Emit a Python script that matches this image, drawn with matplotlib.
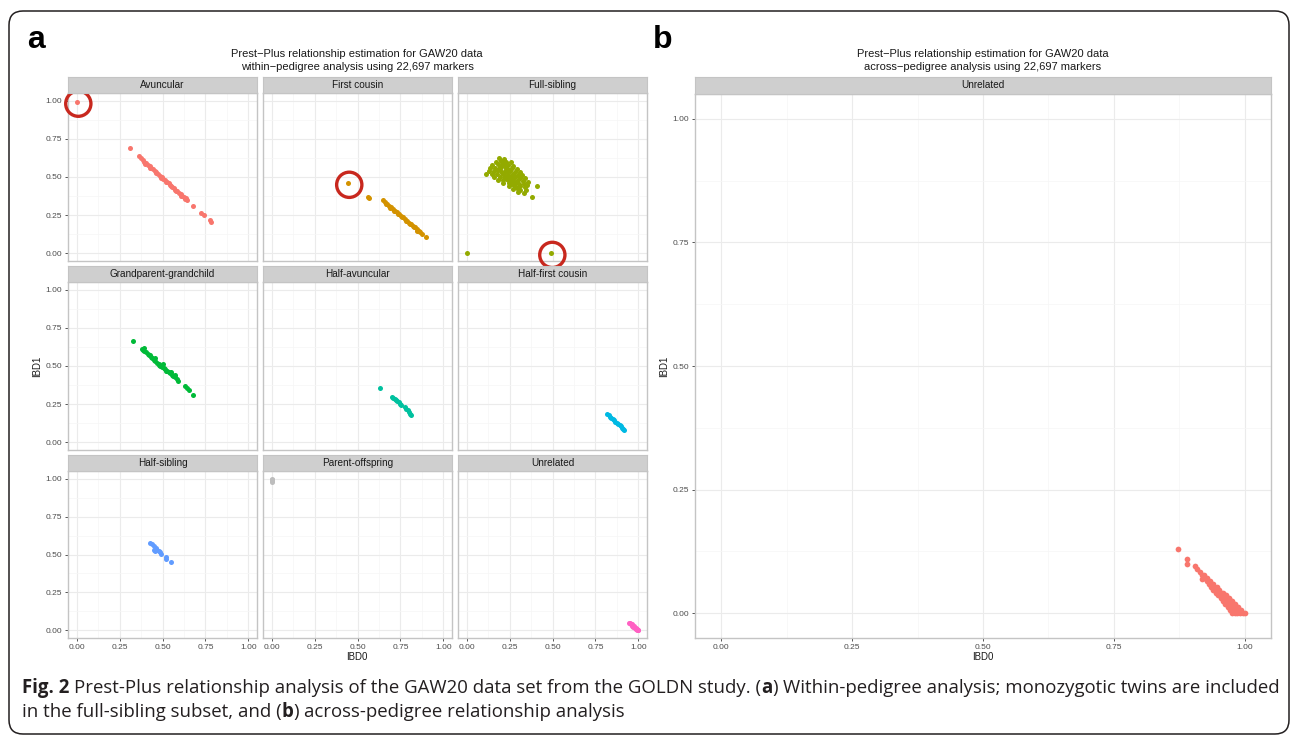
import matplotlib
matplotlib.use('Agg')
import matplotlib.pyplot as plt
from matplotlib.patches import FancyBboxPatch

W, H = 1296, 739

# within-pedigree facets
facets = ['Avuncular', 'First cousin', 'Full-sibling',
          'Grandparent-grandchild', 'Half-avuncular', 'Half-first cousin',
          'Half-sibling', 'Parent-offspring', 'Unrelated']
colors = ['#F8766D', '#D39200', '#93AA00', '#00BA38', '#00C19F',
          '#00B9E3', '#619CFF', '#BDBDBD', '#FF61C3']

avu_ibd0 = [0.000, 0.310, 0.365, 0.375, 0.385, 0.395, 0.405, 0.415, 0.425, 0.435,
            0.445, 0.455, 0.465, 0.475, 0.485, 0.495, 0.505, 0.515, 0.525, 0.535,
            0.545, 0.555, 0.565, 0.575, 0.585, 0.595, 0.605, 0.615, 0.625, 0.635,
            0.645, 0.680, 0.725, 0.740, 0.775, 0.785,
            0.400, 0.430, 0.460, 0.490, 0.520, 0.550, 0.580, 0.610, 0.630]
avu_ibd1 = [0.990, 0.690, 0.635, 0.622, 0.614, 0.601, 0.592, 0.580, 0.571, 0.559,
            0.551, 0.539, 0.530, 0.519, 0.508, 0.499, 0.488, 0.478, 0.468, 0.458,
            0.447, 0.437, 0.428, 0.416, 0.406, 0.397, 0.386, 0.376, 0.366, 0.360,
            0.350, 0.310, 0.265, 0.252, 0.218, 0.205,
            0.588, 0.558, 0.527, 0.496, 0.466, 0.438, 0.407, 0.374, 0.356]

fc_ibd0 = [0.442, 0.560, 0.567,
           0.650, 0.660, 0.672, 0.684, 0.695, 0.707, 0.718, 0.730, 0.741, 0.753,
           0.764, 0.776, 0.787, 0.799, 0.810, 0.822, 0.833, 0.845, 0.856, 0.866,
           0.874, 0.898,
           0.668, 0.690, 0.712, 0.735, 0.758, 0.780, 0.803, 0.826, 0.848]
fc_ibd1 = [0.459, 0.372, 0.360,
           0.347, 0.336, 0.326, 0.313, 0.302, 0.292, 0.280, 0.270, 0.258, 0.247,
           0.237, 0.224, 0.214, 0.202, 0.193, 0.180, 0.170, 0.158, 0.148, 0.138,
           0.130, 0.104,
           0.322, 0.300, 0.279, 0.256, 0.236, 0.214, 0.192, 0.170, 0.149]

fs_ibd0 = [0.190, 0.220, 0.205,
           0.170, 0.198, 0.232, 0.258, 0.214,
           0.148, 0.181, 0.212, 0.243, 0.272, 0.228, 0.196,
           0.138, 0.168, 0.203, 0.231, 0.262, 0.291, 0.247, 0.184,
           0.128, 0.158, 0.192, 0.221, 0.253, 0.282, 0.308, 0.236, 0.207,
           0.115, 0.149, 0.178, 0.213, 0.241, 0.270, 0.297, 0.322, 0.259, 0.226,
           0.162, 0.193, 0.224, 0.252, 0.283, 0.311, 0.338, 0.268, 0.237,
           0.183, 0.212, 0.243, 0.272, 0.301, 0.331, 0.356, 0.288, 0.258,
           0.214, 0.246, 0.277, 0.305, 0.333, 0.352, 0.262,
           0.248, 0.281, 0.312, 0.341, 0.411, 0.296,
           0.272, 0.309, 0.348,
           0.301, 0.332,
           0.378,
           0.000, 0.489]
fs_ibd1 = [0.622, 0.615, 0.604,
           0.600, 0.603, 0.598, 0.596, 0.588,
           0.581, 0.584, 0.578, 0.580, 0.574, 0.571, 0.566,
           0.562, 0.559, 0.563, 0.558, 0.556, 0.552, 0.549, 0.545,
           0.541, 0.538, 0.543, 0.537, 0.540, 0.535, 0.532, 0.530, 0.527,
           0.519, 0.521, 0.518, 0.522, 0.516, 0.520, 0.514, 0.512, 0.508, 0.506,
           0.501, 0.498, 0.502, 0.497, 0.499, 0.495, 0.493, 0.488, 0.486,
           0.481, 0.478, 0.482, 0.477, 0.479, 0.474, 0.470, 0.468, 0.466,
           0.461, 0.458, 0.460, 0.456, 0.454, 0.450, 0.452,
           0.441, 0.438, 0.442, 0.436, 0.440, 0.430,
           0.421, 0.418, 0.416,
           0.402, 0.398,
           0.372,
           0.000, 0.000]

gp_ibd0 = [0.331, 0.379, 0.386, 0.395, 0.405, 0.414, 0.422, 0.431, 0.440, 0.449,
           0.458, 0.468, 0.479, 0.488, 0.498, 0.507, 0.516, 0.526, 0.535, 0.545,
           0.555, 0.564, 0.574, 0.584, 0.593, 0.633, 0.645, 0.657, 0.676,
           0.392, 0.428, 0.455, 0.480, 0.500, 0.520, 0.550, 0.570]
gp_ibd1 = [0.664, 0.614, 0.607, 0.598, 0.590, 0.578, 0.571, 0.559, 0.553, 0.541,
           0.534, 0.522, 0.515, 0.503, 0.496, 0.484, 0.478, 0.470, 0.461, 0.452,
           0.443, 0.436, 0.428, 0.418, 0.402, 0.367, 0.358, 0.345, 0.310,
           0.615, 0.575, 0.550, 0.505, 0.510, 0.470, 0.460, 0.440]

ha_ibd0 = [0.633, 0.700, 0.708, 0.716, 0.724, 0.732, 0.740, 0.748, 0.756, 0.775,
           0.783, 0.792, 0.800, 0.808, 0.814]
ha_ibd1 = [0.356, 0.300, 0.292, 0.285, 0.278, 0.270, 0.262, 0.253, 0.246, 0.232,
           0.220, 0.210, 0.200, 0.188, 0.177]

hfc_ibd0 = [0.819, 0.826, 0.834, 0.842, 0.850, 0.858, 0.866, 0.874, 0.882, 0.890,
            0.898, 0.906, 0.913, 0.919]
hfc_ibd1 = [0.183, 0.176, 0.168, 0.160, 0.152, 0.144, 0.136, 0.128, 0.120, 0.112,
            0.104, 0.096, 0.088, 0.079]

hs_ibd0 = [0.426, 0.437, 0.448, 0.453, 0.465, 0.455, 0.470, 0.478, 0.488, 0.493,
           0.519, 0.523, 0.551]
hs_ibd1 = [0.575, 0.566, 0.556, 0.532, 0.540, 0.523, 0.530, 0.522, 0.514, 0.505,
           0.484, 0.473, 0.449]

po_ibd0 = [0.000, 0.000, 0.000, 0.000, 0.002, 0.004]
po_ibd1 = [1.000, 0.994, 0.988, 0.982, 0.976, 0.990]

un_ibd0 = [0.948, 0.952, 0.956, 0.960, 0.964, 0.968, 0.972, 0.976, 0.980, 0.984,
           0.988, 0.992, 0.995, 0.998, 0.955, 0.963, 0.971, 0.979, 0.987, 0.994]
un_ibd1 = [0.052, 0.048, 0.044, 0.040, 0.036, 0.031, 0.027, 0.023, 0.018, 0.014,
           0.010, 0.006, 0.003, 0.001, 0.040, 0.032, 0.022, 0.015, 0.006, 0.000]

# circled outliers (facet index, IBD0, IBD1)
circled = [(0, 0.000, 0.990), (1, 0.442, 0.459), (2, 0.489, 0.000)]

# across-pedigree
across_ibd0 = [0.872, 0.890, 0.890, 0.918,
               0.976, 0.981, 0.986, 0.991, 0.996, 1.000,
               0.972, 0.977, 0.982, 0.987, 0.992,
               0.967, 0.972, 0.977, 0.982, 0.987,
               0.963, 0.968, 0.973, 0.978, 0.982,
               0.958, 0.963, 0.968, 0.973, 0.976,
               0.954, 0.959, 0.964, 0.969,
               0.949, 0.954, 0.959, 0.964,
               0.945, 0.950, 0.955, 0.958,
               0.940, 0.945, 0.950,
               0.936, 0.941, 0.946,
               0.931, 0.936, 0.940,
               0.927, 0.933,
               0.922, 0.927,
               0.918, 0.922,
               0.914, 0.909, 0.905]
across_ibd1 = [0.130, 0.110, 0.100, 0.070,
               0.000, 0.000, 0.000, 0.000, 0.000, 0.000,
               0.006, 0.006, 0.006, 0.006, 0.006,
               0.012, 0.012, 0.012, 0.012, 0.012,
               0.018, 0.018, 0.018, 0.018, 0.018,
               0.024, 0.024, 0.024, 0.024, 0.024,
               0.030, 0.030, 0.030, 0.030,
               0.036, 0.036, 0.036, 0.036,
               0.042, 0.042, 0.042, 0.042,
               0.048, 0.048, 0.048,
               0.054, 0.054, 0.054,
               0.060, 0.060, 0.060,
               0.066, 0.066,
               0.072, 0.072,
               0.078, 0.078,
               0.084, 0.090, 0.096]

data_a = [(avu_ibd0, avu_ibd1), (fc_ibd0, fc_ibd1), (fs_ibd0, fs_ibd1),
          (gp_ibd0, gp_ibd1), (ha_ibd0, ha_ibd1), (hfc_ibd0, hfc_ibd1),
          (hs_ibd0, hs_ibd1), (po_ibd0, po_ibd1), (un_ibd0, un_ibd1)]

ticks = [0, 0.25, 0.5, 0.75, 1.0]
tick_labels = ['0.00', '0.25', '0.50', '0.75', '1.00']
minor = [0.125, 0.375, 0.625, 0.875]
FONT = 'Liberation Sans'
TXT = '#1A1A1A'

fig = plt.figure(figsize=(W / 100, H / 100), dpi=100)


def px_axes(x0, y0, x1, y1, **kw):
    return fig.add_axes([x0 / W, 1 - y1 / H, (x1 - x0) / W, (y1 - y0) / H], **kw)


def style_panel(ax, show_x, show_y):
    ax.set_xlim(-0.05, 1.05)
    ax.set_ylim(-0.05, 1.05)
    ax.set_xticks(ticks)
    ax.set_yticks(ticks)
    ax.set_xticks(minor, minor=True)
    ax.set_yticks(minor, minor=True)
    ax.set_xticklabels(tick_labels, fontsize=6, family=FONT, color='#4D4D4D')
    ax.set_yticklabels(tick_labels, fontsize=6, family=FONT, color='#4D4D4D')
    ax.grid(which='major', color='#EBEBEB', lw=0.8)
    ax.grid(which='minor', color='#F6F6F6', lw=0.5)
    ax.set_axisbelow(True)
    ax.tick_params(which='minor', length=0)
    ax.tick_params(which='major', length=2.5, width=0.7, color='#555555', pad=1.5)
    if not show_x:
        ax.tick_params(axis='x', which='both', length=0, labelbottom=False)
    if not show_y:
        ax.tick_params(axis='y', which='both', length=0, labelleft=False)
    for s in ax.spines.values():
        s.set_color('#C4C4C4')
        s.set_linewidth(1.0)


def strip(x0, y0, x1, y1, label):
    sa = px_axes(x0, y0, x1, y1, facecolor='#CFCFCF')
    sa.set_xticks([])
    sa.set_yticks([])
    for s in sa.spines.values():
        s.set_color('#C4C4C4')
        s.set_linewidth(0.8)
    sa.text(0.5, 0.5, label, ha='center', va='center', fontsize=7.2,
            family=FONT, color=TXT, transform=sa.transAxes)


# panel a
cols = [(68, 257), (263, 452), (458, 647)]
rows = [(93, 261), (282, 450), (471, 638)]
for i, name in enumerate(facets):
    r, c = divmod(i, 3)
    x0, x1 = cols[c]
    y0, y1 = rows[r]
    ax = px_axes(x0, y0, x1, y1)
    style_panel(ax, r == 2, c == 0)
    strip(x0, y0 - 16, x1, y0, name)
    xs, ys = data_a[i]
    ax.scatter(xs, ys, s=13, color=colors[i], linewidths=0, zorder=3)
    for k, cx, cy in circled:
        if k == i:
            ax.scatter([cx + 0.01], [cy - 0.01], s=330, facecolors='none',
                       edgecolors='#C8281E', linewidths=2.4, zorder=6,
                       clip_on=False)

fig.text(357 / W, 1 - 54 / H, 'Prest\u2212Plus relationship estimation for GAW20 data',
         ha='center', va='center', fontsize=8, family=FONT, color=TXT)
fig.text(357 / W, 1 - 67 / H, 'within\u2212pedigree analysis using 22,697 markers',
         ha='center', va='center', fontsize=8, family=FONT, color=TXT)
fig.text(357 / W, 1 - 657 / H, 'IBD0', ha='center', va='center', fontsize=7,
         family=FONT, color=TXT)
fig.text(37 / W, 1 - 366 / H, 'IBD1', ha='center', va='center', fontsize=7,
         family=FONT, color=TXT, rotation=90)

# panel b
axb = px_axes(695, 94, 1271, 638)
style_panel(axb, True, True)
strip(695, 77, 1271, 94, 'Unrelated')
axb.scatter(across_ibd0, across_ibd1, s=17, color='#F8766D', linewidths=0, zorder=3)
fig.text(983 / W, 1 - 54 / H, 'Prest\u2212Plus relationship estimation for GAW20 data',
         ha='center', va='center', fontsize=8, family=FONT, color=TXT)
fig.text(983 / W, 1 - 67 / H, 'across\u2212pedigree analysis using 22,697 markers',
         ha='center', va='center', fontsize=8, family=FONT, color=TXT)
fig.text(983 / W, 1 - 657 / H, 'IBD0', ha='center', va='center', fontsize=7,
         family=FONT, color=TXT)
fig.text(664 / W, 1 - 366 / H, 'IBD1', ha='center', va='center', fontsize=7,
         family=FONT, color=TXT, rotation=90)

# panel letters
fig.text(27 / W, 1 - 40 / H, 'a', ha='left', va='center', fontsize=23,
         fontweight='bold', family=FONT, color='black')
fig.text(653 / W, 1 - 40 / H, 'b', ha='left', va='center', fontsize=23,
         fontweight='bold', family=FONT, color='black')

# border
box = FancyBboxPatch((9 / 100, (H - 734) / 100), (1289 - 9) / 100, (734 - 11) / 100,
                     boxstyle='round,pad=0,rounding_size=0.14',
                     transform=fig.dpi_scale_trans, fill=False,
                     ec='#231F20', lw=1.1)
fig.add_artist(box)

# caption
renderer = fig.canvas.get_renderer()
cap_font = ['Open Sans', 'DejaVu Sans']
cap_size = 13.4
cap_color = '#231F20'


def text_width(s, weight):
    t = fig.text(0, 0, s, fontsize=cap_size, fontweight=weight, family=cap_font)
    w = t.get_window_extent(renderer).width
    t.remove()
    return w


space = text_width('a a', 'normal') - text_width('aa', 'normal')


def caption_line(parts, x, y):
    for s, weight, gap in parts:
        x += gap * space
        t = fig.text(x / W, 1 - y / H, s, fontsize=cap_size, fontweight=weight,
                     family=cap_font, color=cap_color, ha='left', va='center')
        x += t.get_window_extent(renderer).width


line1 = [('Fig. 2', 'bold', 0),
         ('Prest-Plus relationship analysis of the GAW20 data set from the GOLDN study. (',
          'normal', 1),
         ('a', 'bold', 0),
         (')', 'normal', 0),
         ('Within-pedigree analysis; monozygotic twins are included', 'normal', 1)]
line2 = [('in the full-sibling subset, and (', 'normal', 0),
         ('b', 'bold', 0),
         (')', 'normal', 0),
         ('across-pedigree relationship analysis', 'normal', 1)]
caption_line(line1, 22, 688)
caption_line(line2, 22, 712)

fig.savefig('out.png', dpi=100)
